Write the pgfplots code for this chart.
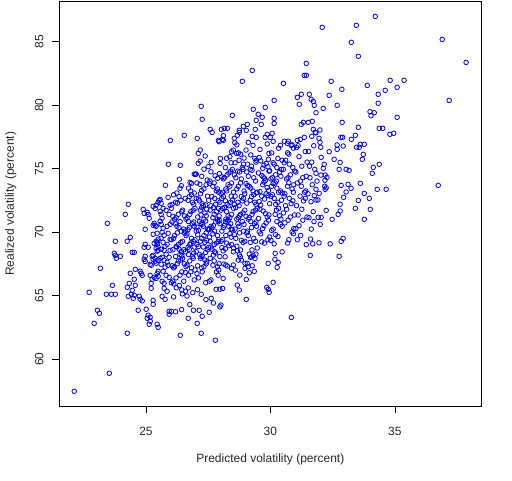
\documentclass[border=0pt]{standalone}
\usepackage{pgfplots}
\usepackage{pgfplotstable}
\pgfplotsset{compat=1.18}
\usepackage{fontspec}
\setmainfont{Liberation Sans}
\pgfplotstableread{
x y
22.12 57.48
22.72 65.27
22.92 62.83
23.05 63.86
23.13 63.62
23.17 67.16
23.45 70.70
23.53 58.90
23.41 65.12
23.61 65.12
23.77 65.12
23.65 65.82
23.73 68.34
23.77 68.18
23.81 67.95
23.97 68.11
23.77 69.29
24.17 71.41
24.29 72.20
24.25 69.29
24.37 69.60
24.25 62.05
24.25 65.67
24.33 65.98
24.29 64.96
24.41 65.12
24.37 66.77
24.45 68.42
24.53 68.42
24.45 65.43
24.49 64.80
24.53 65.04
24.57 65.82
24.53 66.30
24.57 67.08
24.69 63.86
24.73 64.96
24.77 66.93
24.85 66.61
24.81 66.77
24.77 64.72
24.85 64.60
24.89 71.80
24.97 69.05
24.93 68.82
24.93 67.87
24.97 68.11
24.97 67.70
24.97 70.23
24.93 71.49
25.05 71.57
25.09 71.41
25.09 68.82
25.01 63.94
25.05 63.23
25.09 63.47
25.17 63.31
25.13 62.76
25.17 63.00
25.13 71.10
25.21 65.59
25.21 65.98
25.25 66.30
25.17 66.61
25.25 68.11
25.17 67.48
25.21 67.40
25.29 68.19
25.29 67.87
25.29 64.64
25.29 64.33
25.29 72.04
25.41 72.12
25.37 71.88
25.37 70.55
25.29 70.55
25.33 70.70
25.41 70.47
25.45 69.92
25.49 69.45
25.45 69.21
25.45 69.05
25.33 69.13
25.41 69.29
25.49 68.82
25.49 68.58
25.41 68.74
25.45 68.51
25.37 67.72
25.41 67.56
25.49 67.80
25.49 66.93
25.45 66.77
25.49 66.53
25.45 62.76
25.49 62.52
25.41 66.37
25.33 66.45
25.37 67.95
25.29 69.84
25.49 72.36
25.53 72.51
25.57 72.59
25.61 72.28
25.57 71.65
25.61 71.41
25.65 71.10
25.57 70.86
25.61 70.62
25.69 70.31
25.65 70.00
25.73 69.76
25.61 69.53
25.69 69.21
25.77 68.90
25.61 68.66
25.73 68.58
25.81 68.27
25.65 68.03
25.73 67.80
25.85 67.64
25.61 67.48
25.77 67.25
25.89 67.40
25.69 66.93
25.81 66.61
25.93 66.45
25.65 66.14
25.73 65.98
25.85 65.35
25.73 65.59
25.65 64.96
25.77 64.72
25.93 63.78
25.93 63.55
25.98 77.23
25.90 75.35
25.78 73.69
25.89 72.75
25.97 72.12
25.93 71.41
25.97 70.62
25.89 69.92
25.97 69.45
25.97 68.58
25.85 70.47
25.81 71.73
25.93 68.03
25.57 67.95
25.85 69.05
25.69 71.88
26.11 64.91
26.19 63.74
26.43 63.91
26.38 61.89
26.02 63.78
26.46 65.15
26.34 65.81
26.22 65.63
26.44 65.46
26.12 65.93
26.34 74.17
26.38 75.27
26.70 63.23
26.91 63.86
26.76 64.31
26.65 64.98
26.88 65.25
26.59 65.36
26.70 65.62
26.54 77.63
27.06 62.83
27.22 62.05
27.26 63.39
27.14 63.86
27.07 65.48
27.22 65.12
27.41 64.70
27.06 77.39
27.26 78.89
27.22 79.91
27.79 61.50
27.54 63.70
27.62 64.80
27.82 65.51
27.71 64.43
27.97 65.52
27.91 77.23
27.94 77.13
27.58 78.10
27.66 77.86
28.11 77.60
26.37 66.62
26.08 66.15
26.44 66.88
26.21 66.41
26.02 66.03
26.30 67.74
26.15 67.29
26.47 67.95
26.26 67.52
26.11 67.20
26.40 67.81
26.05 67.36
26.33 68.67
26.19 68.09
26.42 68.47
26.24 68.84
26.37 68.25
26.08 68.62
26.44 68.15
26.21 68.88
26.02 69.41
26.30 69.03
26.15 69.74
26.47 69.29
26.26 69.95
26.11 69.52
26.40 69.20
26.05 70.81
26.33 70.36
26.19 70.67
26.42 70.09
26.24 70.47
26.37 70.84
26.08 71.25
26.44 71.62
26.21 71.15
26.02 71.88
26.30 71.41
26.15 71.03
26.47 71.74
26.26 72.29
26.11 72.95
26.40 72.52
26.05 72.20
26.33 72.81
26.19 72.36
26.42 73.67
26.24 73.09
26.37 73.47
26.58 66.84
26.94 66.25
26.71 66.62
26.52 66.15
26.80 66.88
26.65 67.41
26.97 67.03
26.76 67.74
26.61 67.29
26.90 67.95
26.55 67.52
26.83 67.20
26.69 68.81
26.92 68.36
26.74 68.67
26.87 68.09
26.58 68.47
26.94 68.84
26.71 68.25
26.52 68.62
26.80 69.15
26.65 69.88
26.97 69.41
26.76 69.03
26.61 69.74
26.90 69.29
26.55 69.95
26.83 69.52
26.69 70.20
26.92 70.81
26.74 70.36
26.87 70.67
26.58 70.09
26.94 70.47
26.71 70.84
26.52 70.25
26.80 71.62
26.65 71.15
26.97 71.88
26.76 71.41
26.61 71.03
26.90 71.74
26.55 71.29
26.83 72.95
26.69 72.52
26.92 72.20
26.74 72.81
26.87 72.36
26.58 72.67
26.94 73.09
26.71 73.47
26.77 73.92
26.83 73.85
26.80 73.25
26.94 74.58
26.99 74.56
27.26 66.88
27.11 66.41
27.40 66.03
27.05 66.74
27.33 67.29
27.19 67.95
27.42 67.52
27.24 67.20
27.37 67.81
27.08 67.36
27.44 67.67
27.21 68.09
27.02 68.47
27.30 68.84
27.15 68.25
27.47 68.62
27.26 68.15
27.11 68.88
27.40 68.41
27.05 69.03
27.33 69.74
27.19 69.29
27.42 69.95
27.24 69.52
27.37 69.20
27.08 69.81
27.44 69.36
27.21 70.67
27.02 70.09
27.30 70.47
27.15 70.84
27.47 70.25
27.26 70.62
27.11 70.15
27.40 70.88
27.05 70.41
27.33 71.03
27.19 71.74
27.42 71.29
27.24 71.95
27.37 71.52
27.08 71.20
27.44 71.81
27.21 71.36
27.02 72.67
27.30 72.09
27.15 72.47
27.47 72.84
27.26 72.25
27.11 72.62
27.40 72.15
27.05 73.88
27.33 73.41
27.19 73.03
27.42 73.74
27.24 73.29
27.17 73.77
27.18 76.47
27.10 76.21
27.38 76.00
27.18 75.60
27.10 75.42
27.33 74.97
27.46 74.11
27.02 74.58
27.24 74.40
27.61 66.25
27.90 66.62
27.55 66.15
27.83 66.88
27.69 67.41
27.92 67.03
27.74 67.74
27.87 67.29
27.58 67.95
27.94 67.52
27.71 68.20
27.52 68.81
27.80 68.36
27.65 68.67
27.97 68.09
27.76 68.47
27.61 68.84
27.90 69.25
27.55 69.62
27.83 69.15
27.69 69.88
27.92 69.41
27.74 69.03
27.87 69.74
27.58 69.29
27.94 70.95
27.71 70.52
27.52 70.20
27.80 70.81
27.65 70.36
27.97 70.67
27.76 70.09
27.61 70.47
27.90 70.84
27.55 70.25
27.83 71.62
27.69 71.15
27.92 71.88
27.74 71.41
27.87 71.03
27.58 71.74
27.94 71.29
27.71 71.95
27.52 72.52
27.80 72.20
27.65 72.81
27.97 72.36
27.76 72.67
27.61 72.09
27.90 72.47
27.55 73.84
27.83 73.25
27.69 73.62
27.92 73.15
27.74 73.88
27.87 73.41
27.62 75.50
27.50 75.16
27.61 74.76
27.57 74.03
27.98 75.42
27.99 75.81
27.78 74.45
27.88 74.25
27.95 74.62
28.05 68.79
28.33 68.94
28.19 68.70
28.42 69.62
28.24 69.15
28.37 69.88
28.08 69.41
28.44 69.03
28.21 69.74
28.02 69.29
28.30 70.95
28.15 70.52
28.47 70.20
28.26 70.81
28.11 70.36
28.40 70.67
28.05 70.09
28.33 70.47
28.19 70.84
28.42 70.25
28.24 71.62
28.37 71.15
28.08 71.88
28.44 71.41
28.21 71.03
28.02 71.74
28.30 71.29
28.15 71.95
28.47 72.52
28.26 72.20
28.11 72.81
28.40 72.36
28.05 72.67
28.33 72.09
28.19 72.47
28.42 72.84
28.24 73.25
28.37 73.62
28.08 73.15
28.44 73.88
28.21 73.41
28.02 73.03
28.30 73.74
28.15 74.29
28.47 74.95
28.26 74.52
28.11 74.20
28.40 74.81
28.05 74.36
28.33 74.67
28.19 75.09
28.42 75.47
28.24 75.82
28.37 75.95
28.44 76.34
28.51 76.47
28.52 68.76
28.80 68.61
28.65 68.90
28.97 69.29
28.76 69.95
28.61 69.52
28.90 69.20
28.55 69.81
28.83 69.36
28.69 70.67
28.92 70.09
28.74 70.47
28.87 70.84
28.58 70.25
28.94 70.62
28.71 71.15
28.52 71.88
28.80 71.41
28.65 71.03
28.97 71.74
28.76 71.29
28.61 71.95
28.90 71.52
28.55 72.20
28.83 72.81
28.69 72.36
28.92 72.67
28.74 72.09
28.87 72.47
28.58 72.84
28.94 73.25
28.71 73.62
28.52 73.15
28.80 73.88
28.65 73.41
28.97 73.03
28.76 74.74
28.61 74.29
28.90 74.95
28.55 74.52
28.83 74.20
28.69 74.81
28.92 75.36
28.74 75.67
28.87 75.09
28.58 75.47
28.94 75.84
28.71 76.25
28.64 76.21
28.80 76.15
28.65 76.88
29.47 68.76
29.26 68.61
29.11 69.74
29.40 69.29
29.05 69.95
29.33 69.52
29.19 69.20
29.42 70.81
29.24 70.36
29.37 70.67
29.08 70.09
29.44 70.47
29.21 70.84
29.02 71.25
29.30 71.62
29.15 71.15
29.47 71.88
29.26 71.41
29.11 71.03
29.40 71.74
29.05 72.29
29.33 72.95
29.19 72.52
29.42 72.20
29.24 72.81
29.37 72.36
29.08 73.67
29.44 73.09
29.21 73.47
29.02 73.84
29.30 73.25
29.15 73.62
29.47 73.15
29.26 74.88
29.11 74.41
29.40 74.03
29.05 74.74
29.33 74.29
29.19 74.95
29.42 75.52
29.24 75.20
29.37 75.81
29.08 75.36
29.44 75.67
29.21 76.09
29.02 76.47
29.30 76.84
29.65 69.25
29.97 69.62
29.76 69.15
29.61 69.88
29.90 69.41
29.55 70.03
29.83 70.74
29.69 70.29
29.92 70.95
29.74 70.52
29.87 71.20
29.58 71.81
29.94 71.36
29.71 71.67
29.52 71.09
29.80 71.47
29.65 72.84
29.97 72.25
29.76 72.62
29.61 72.15
29.90 72.88
29.55 72.41
29.83 73.03
29.69 73.74
29.92 73.29
29.74 73.95
29.87 73.52
29.58 73.20
29.94 74.81
29.71 74.36
29.52 74.67
29.80 74.09
29.65 74.47
29.97 74.84
29.76 74.25
29.61 75.62
29.90 75.15
29.55 75.88
29.83 75.41
29.69 75.03
29.92 75.74
29.74 75.29
29.87 76.95
29.58 76.52
29.94 76.20
30.21 69.81
30.02 69.36
30.30 69.67
30.15 69.09
30.47 70.47
30.26 70.84
30.11 70.25
30.40 70.62
30.05 70.15
30.33 71.88
30.19 71.41
30.42 71.03
30.24 71.74
30.37 71.29
30.08 72.95
30.44 72.52
30.21 72.20
30.02 72.81
30.30 72.36
30.15 72.67
30.47 73.09
30.26 73.47
30.11 73.84
30.40 73.25
30.05 73.62
30.33 73.15
30.19 73.88
30.42 74.41
30.24 74.03
30.37 74.74
30.08 74.29
30.44 74.95
30.21 74.52
30.02 74.20
30.30 75.81
30.15 75.36
30.47 75.67
30.26 75.09
30.11 75.47
30.40 76.84
30.05 76.25
30.33 76.62
30.69 69.15
30.92 69.88
30.74 69.41
30.87 70.03
30.58 70.74
30.94 70.29
30.71 70.95
30.52 71.52
30.80 71.20
30.65 71.81
30.97 71.36
30.76 72.67
30.61 72.09
30.90 72.47
30.55 72.84
30.83 72.25
30.69 73.62
30.92 73.15
30.74 73.88
30.87 73.41
30.58 73.03
30.94 73.74
30.71 74.29
30.52 74.95
30.80 74.52
30.65 74.20
30.97 74.81
30.76 75.36
30.61 75.67
30.90 75.09
30.55 75.47
30.83 76.84
30.69 76.25
30.92 76.62
30.74 76.15
30.87 76.88
31.08 69.41
31.44 69.03
31.21 69.74
31.02 70.29
31.30 70.95
31.15 70.52
31.47 71.20
31.26 71.81
31.11 71.36
31.40 72.67
31.05 72.09
31.33 72.47
31.19 72.84
31.42 73.25
31.24 73.62
31.37 73.15
31.08 73.88
31.44 74.41
31.21 74.03
31.02 74.74
31.30 74.29
31.15 75.95
31.47 75.52
31.26 75.20
31.11 76.81
31.40 76.36
31.05 76.67
31.70 69.09
31.61 69.47
31.75 70.84
31.64 70.25
31.72 71.62
31.55 71.15
31.76 72.88
31.63 72.41
31.51 73.03
31.68 73.74
31.59 74.29
31.78 74.95
31.66 75.52
31.57 75.20
31.74 76.81
31.53 76.36
28.10 68.54
28.51 68.46
28.67 68.54
28.18 68.07
28.75 68.23
28.79 68.07
28.71 67.81
28.83 67.81
29.15 68.28
29.24 68.07
29.20 68.02
29.31 68.15
29.42 68.28
29.38 67.94
30.19 68.34
30.47 68.46
30.18 67.87
30.31 67.63
30.27 67.24
28.13 67.50
28.21 67.42
28.27 67.34
28.51 67.42
28.44 67.16
28.59 67.02
28.98 67.55
29.07 67.55
29.11 67.28
28.98 67.16
29.27 67.36
29.15 66.81
29.35 66.92
29.91 67.55
28.77 66.63
29.03 66.29
28.10 66.37
28.08 65.58
28.67 65.84
28.75 65.45
30.11 66.06
29.85 65.66
29.91 65.50
29.95 65.27
29.03 64.72
28.01 64.27
27.97 64.13
30.84 63.30
31.60 68.18
28.07 77.31
28.11 77.23
28.03 78.10
28.15 78.18
28.27 78.18
28.47 79.20
28.55 77.39
28.67 77.63
28.57 77.05
28.75 77.86
28.75 78.02
28.91 78.34
28.87 81.88
29.11 77.08
29.27 77.55
29.43 77.47
29.03 78.02
29.39 78.10
29.07 78.49
29.43 78.81
29.31 79.68
29.27 82.74
29.79 77.47
29.87 77.71
29.63 78.49
29.67 79.05
29.51 79.28
29.79 79.83
30.15 80.38
30.15 78.97
30.15 78.57
30.07 77.79
29.99 77.47
30.11 77.16
30.52 81.72
30.56 77.16
30.72 77.16
30.68 77.00
31.44 83.29
31.36 82.35
31.44 82.35
31.24 80.86
31.08 80.62
31.16 80.07
31.24 78.49
31.32 78.65
31.36 77.47
31.20 77.31
31.08 77.23
31.56 80.86
31.64 80.46
31.72 80.30
31.76 79.99
31.52 78.65
31.68 78.73
31.72 78.10
31.80 77.86
31.66 77.55
31.83 79.41
34.00 79.49
34.17 79.41
34.04 79.17
35.09 79.05
32.88 78.65
31.99 78.05
31.83 77.83
33.53 78.26
34.37 78.18
34.51 78.18
34.80 77.71
34.95 77.79
32.83 77.47
32.90 77.47
33.41 77.63
33.25 77.31
31.95 77.39
31.99 77.08
32.02 76.69
32.68 76.87
32.68 76.53
32.92 76.79
33.61 76.92
33.77 76.92
33.46 76.69
33.57 76.69
32.36 76.34
33.73 76.13
33.69 75.74
32.04 75.90
32.56 75.74
32.80 75.50
32.16 75.35
32.12 75.03
34.37 75.35
34.13 75.11
34.09 74.64
32.76 74.95
33.04 74.95
33.16 74.87
31.83 74.64
32.03 74.50
32.20 74.50
32.27 74.32
31.87 74.03
32.19 74.09
32.84 73.69
33.12 73.77
33.24 73.46
33.61 73.85
32.18 73.62
32.24 73.50
32.20 73.38
31.83 73.38
31.96 73.06
34.29 73.38
34.65 73.38
33.04 73.17
33.77 73.06
32.94 72.75
33.53 72.51
33.97 72.67
31.83 72.54
31.91 72.54
32.80 72.20
32.80 71.67
32.72 71.41
33.41 71.88
34.01 71.80
32.24 71.72
32.04 71.17
32.48 71.02
33.77 71.02
32.00 70.62
31.92 71.18
31.95 69.17
32.40 69.09
32.84 69.28
32.92 69.52
32.08 86.13
32.44 81.88
32.36 80.78
32.12 79.75
32.87 81.25
32.68 79.99
33.45 86.29
33.25 84.95
33.53 83.85
33.89 81.56
34.21 86.99
34.81 81.96
35.37 81.96
35.09 81.41
34.61 81.17
34.33 80.86
34.33 80.15
36.90 85.18
37.86 83.37
37.18 80.38
36.74 73.69
32.76 68.11
}\vol
\begin{document}
\begin{tikzpicture}
\begin{axis}[
  at={(0,0)}, anchor=south west,
  scale only axis, width=422pt, height=405pt,
  xmin=21.52, xmax=38.47, ymin=56.30, ymax=88.18,
  xtick={25,30,35}, ytick={60,65,70,75,80,85},
  xtick pos=bottom, ytick pos=left,
  tick align=outside, major tick length=7pt,
  tick style={black, line width=0.8pt},
  axis line style={black, line width=0.8pt},
  /pgf/number format/assume math mode=true,
  ticklabel style={font=\fontsize{12}{14}\selectfont, text=black!85},
  xticklabel style={anchor=center, yshift=-18pt},
  yticklabel style={rotate=90, anchor=center, yshift=13pt},
  xlabel={Predicted volatility (percent)},
  ylabel={Realized volatility (percent)},
  every axis x label/.style={at={(axis description cs:0.5,0)}, anchor=center, yshift=-52.7pt, font=\fontsize{12}{14}\selectfont, text=black!85},
  every axis y label/.style={at={(axis description cs:0,0.5)}, anchor=center, xshift=-48.6pt, rotate=90, font=\fontsize{12}{14}\selectfont, text=black!85},
  clip=false,
]
\addplot[only marks, mark=o, color=blue, mark size=2.3pt, mark options={line width=0.8pt}] table[x=x, y=y] {\vol};
\end{axis}
\path[use as bounding box] (-59.3pt,-73.7pt) rectangle (452.7pt,406.3pt);
\end{tikzpicture}
\end{document}
